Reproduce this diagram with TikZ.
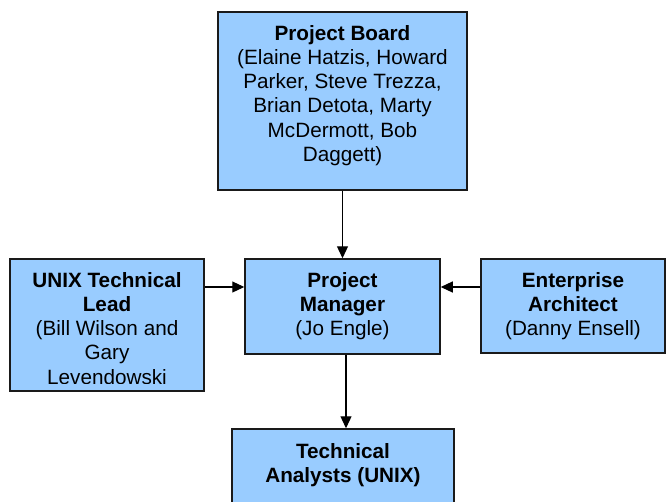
\documentclass[tikz,border=0pt]{standalone}
\usepackage{fontspec}
\setmainfont{Liberation Sans}
\usetikzlibrary{arrows.meta}
\definecolor{boxblue}{HTML}{99CCFF}
\definecolor{boxline}{HTML}{1A1A1A}
\tikzset{
  box/.style={draw=boxline, fill=boxblue, line width=1.5pt, inner sep=0pt, rectangle},
  txt/.style={inner sep=0pt, align=center, anchor=north, font=\fontsize{20.7}{24.2}\selectfont},
  conn/.style={line width=1.2pt, -{Triangle[length=12pt,width=11pt]}}
}
\begin{document}
\begin{tikzpicture}[x=1pt,y=-1pt]
\useasboundingbox (0,0) rectangle (666,501);
\clip (0,0) rectangle (666,501);
% boxes
\node[box, minimum width=249pt, minimum height=178pt] (board) at (342.5,101) {};
\node[box, minimum width=194pt, minimum height=132pt] (unix) at (107,325) {};
\node[box, minimum width=195pt, minimum height=95pt] (pm) at (342.5,306.5) {};
\node[box, minimum width=184pt, minimum height=94pt] (ea) at (573,306) {};
\node[box, minimum width=222pt, minimum height=100pt] (ta) at (343,479) {};
% texts
\node[txt] (boardt) at (342.5,25) {\textbf{Project Board}\\(Elaine Hatzis, Howard\\Parker, Steve Trezza,\\Brian Detota, Marty\\McDermott, Bob\\Daggett)};
\begin{scope}
\clip (11,260) rectangle (203,383);
\node[txt] (unixt) at (107,272) {\textbf{UNIX Technical}\\\textbf{Lead}\\(Bill Wilson and\\Gary\\Levendowski};
\end{scope}
\node[txt] (pmt) at (342.5,272) {\textbf{Project}\\\textbf{Manager}\\(Jo Engle)};
\node[txt] (eat) at (573,272) {\textbf{Enterprise}\\\textbf{Architect}\\(Danny Ensell)};
\node[txt] (tat) at (343,443) {\textbf{Technical}\\\textbf{Analysts (UNIX)}};
% connectors
\coordinate (ya) at (0,287);
\coordinate (xd) at (346,0);
\draw[conn] (board.south) -- (pm.north);
\draw[conn] (unix.east |- ya) -- (pm.west |- ya);
\draw[conn] (ea.west |- ya) -- (pm.east |- ya);
\draw[conn] (pm.south -| xd) -- (ta.north -| xd);
\end{tikzpicture}
\end{document}
